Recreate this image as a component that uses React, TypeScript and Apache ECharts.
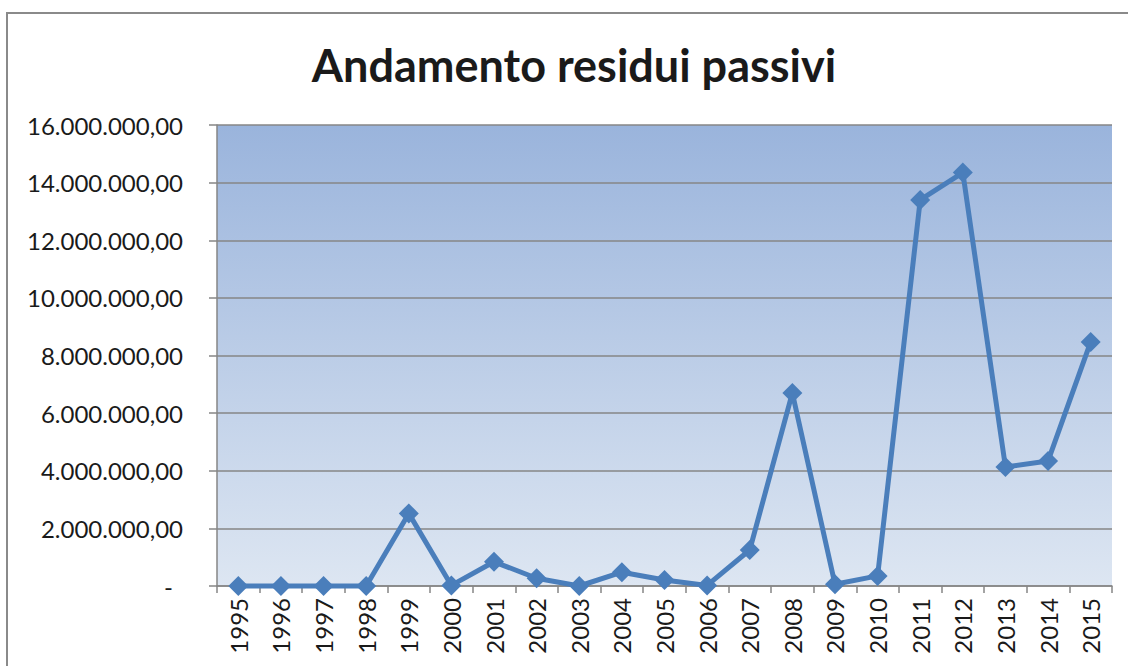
import React, { useEffect, useRef } from "react";
import * as echarts from "echarts";

const years = ["1995","1996","1997","1998","1999","2000","2001","2002","2003","2004","2005","2006","2007","2008","2009","2010","2011","2012","2013","2014","2015"];
const residui = [0, 0, 0, 0, 2520000, 20000, 840000, 270000, 0, 480000, 210000, 20000, 1250000, 6700000, 60000, 350000, 13400000, 14350000, 4130000, 4340000, 8470000];
const titleText = "Andamento residui passivi";

function fmt(v: number): string {
  if (v === 0) return "{z|-}";
  const s = Math.round(v).toString().replace(/\B(?=(\d{3})+(?!\d))/g, ".");
  return s + ",00";
}

export default function App() {
  const ref = useRef<HTMLDivElement>(null);
  useEffect(() => {
    document.body.style.margin = "0";
    const chart = echarts.init(ref.current!, null, { renderer: "svg" });
    const font = "Lato, Carlito, Calibri, sans-serif";
    chart.setOption({
      animation: false,
      backgroundColor: "#ffffff",
      graphic: [
        {
          type: "rect",
          shape: { x: 7, y: 13, width: 1140, height: 680 },
          style: { fill: "none", stroke: "#8a8a8a", lineWidth: 2 },
          z: -1,
        },
        {
          type: "text",
          x: 574,
          y: 65,
          style: {
            text: titleText,
            fontFamily: font,
            fontWeight: "bold",
            fontSize: 45,
            fill: "#1a1a1a",
            textAlign: "center",
            textVerticalAlign: "middle",
          },
        },
      ],
      grid: {
        left: 217,
        right: 16,
        top: 125,
        bottom: 80,
        show: true,
        borderWidth: 0,
        backgroundColor: new echarts.graphic.LinearGradient(0, 0, 0, 1, [
          { offset: 0, color: "#9ab4dc" },
          { offset: 1, color: "#dde6f2" },
        ]),
      },
      xAxis: {
        type: "category",
        data: years,
        boundaryGap: true,
        axisLine: { lineStyle: { color: "#868686", width: 1.5 } },
        axisTick: { show: true, length: 7, lineStyle: { color: "#868686", width: 1.5 } },
        axisLabel: {
          rotate: 90,
          margin: 12,
          fontFamily: font,
          fontSize: 24,
          color: "#1a1a1a",
          interval: 0,
        },
      },
      yAxis: {
        type: "value",
        min: 0,
        max: 16000000,
        interval: 2000000,
        axisLine: { show: true, lineStyle: { color: "#868686", width: 1.5 } },
        axisTick: { show: true, inside: false, length: 8, lineStyle: { color: "#868686", width: 1.5 } },
        splitLine: { show: true, lineStyle: { color: "#868686", width: 1.5 } },
        axisLabel: {
          margin: 34,
          fontFamily: font,
          fontSize: 24,
          color: "#1a1a1a",
          formatter: fmt,
          rich: { z: { fontFamily: font, fontSize: 24, color: "#1a1a1a", padding: [0, 10, 0, 0] } },
        },
      },
      series: [
        {
          type: "line",
          data: residui,
          symbol: "path://M0,-1L1,0L0,1L-1,0Z",
          symbolSize: 20,
          lineStyle: { color: "#4a7ebb", width: 5 },
          itemStyle: { color: "#4a7ebb" },
          clip: false,
        },
      ],
    });
    return () => chart.dispose();
  }, []);
  return <div ref={ref} style={{ width: 1128, height: 666 }} />;
}
